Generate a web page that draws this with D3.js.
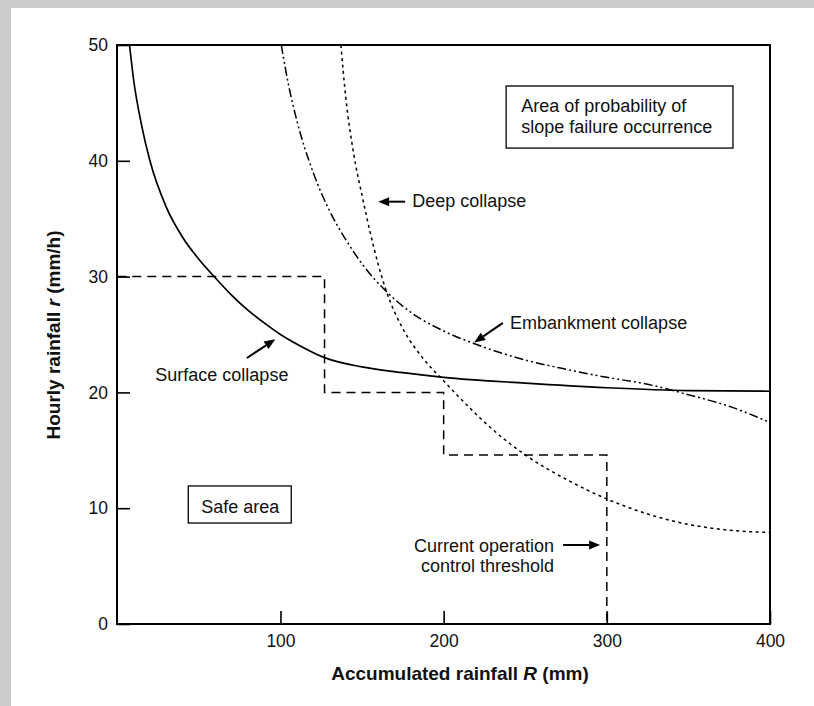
<!DOCTYPE html>
<html><head><meta charset="utf-8">
<script src="https://cdn.jsdelivr.net/npm/d3@7"></script>
<style>body{margin:0;background:#cccccc;} svg{display:block}</style>
</head><body>
<svg id="c" width="814" height="706"></svg>
<script>
// ---- data ----
const xTicks = [100, 200, 300, 400];
const yTicks = [0, 10, 20, 30, 40, 50];

const surfaceR = [7.5, 10, 15, 20, 30, 40, 50, 60, 70, 80, 90, 100, 115, 127, 150, 175, 200, 250, 300, 350, 400];
const surfaceV = [50, 47, 43, 40, 36, 33.4, 31.5, 29.9, 28.4, 27.1, 26, 25, 23.8, 23.0, 22.2, 21.7, 21.3, 20.8, 20.4, 20.15, 20.1];

const deepR = [137, 140, 145, 150, 155, 160, 165, 175, 187, 200, 215, 230, 250, 275, 300, 325, 350, 375, 400];
const deepV = [50, 45.5, 40.5, 37, 33.8, 31, 28.7, 25.5, 23, 21, 18.8, 16.8, 14.6, 12.5, 10.8, 9.5, 8.6, 8.1, 7.9];

const embankR = [100.5, 105, 110, 120, 130, 140, 150, 165, 180, 200, 219, 250, 275, 300, 325, 350, 375, 400];
const embankV = [50, 46.5, 43.5, 39, 35.7, 33.2, 31.1, 28.7, 26.9, 25.3, 24.2, 22.8, 22.0, 21.3, 20.7, 19.8, 18.8, 17.4];

const thresholdR = [0, 127, 127, 200, 200, 300, 300];
const thresholdV = [30, 30, 20, 20, 14.6, 14.6, 0];

// ---- layout ----
const svg = d3.select("#c");
svg.append("rect").attr("x", 11).attr("y", 8).attr("width", 814).attr("height", 706).attr("fill", "#fff");

const L = 117, R = 770, T = 45, B = 624;
const x = d3.scaleLinear().domain([0, 400]).range([L + 0.3, R]);
const y = d3.scaleLinear().domain([0, 50]).range([B, T]);
const font = "'Liberation Sans', Arial, Helvetica, sans-serif";

// axes
const xa = svg.append("g").attr("transform", `translate(0,${B})`)
  .call(d3.axisBottom(x).tickValues(xTicks).tickSizeInner(-13).tickSizeOuter(0).tickPadding(10.5).tickFormat(d3.format("d")));
const ya = svg.append("g").attr("transform", `translate(${L},0)`)
  .call(d3.axisLeft(y).tickValues(yTicks).tickSizeInner(-13).tickSizeOuter(0).tickPadding(9).tickFormat(d3.format("d")));
[xa, ya].forEach(g => {
  g.select(".domain").remove();
  g.selectAll(".tick line").attr("stroke", "#000").attr("stroke-width", 1.6);
  g.selectAll(".tick text").attr("fill", "#111").style("font-family", font).style("font-size", "17.5px");
});

// frame
svg.append("rect").attr("x", L).attr("y", T).attr("width", R - L).attr("height", B - T)
  .attr("fill", "none").attr("stroke", "#000").attr("stroke-width", 2);

// curves
const line = d3.line().x(d => x(d[0])).y(d => y(d[1])).curve(d3.curveMonotoneX);
const zipd = (a, b) => a.map((v, i) => [v, b[i]]);
const plot = svg.append("g");
plot.append("path").datum(zipd(surfaceR, surfaceV)).attr("d", line)
  .attr("fill", "none").attr("stroke", "#000").attr("stroke-width", 1.7);
plot.append("path").datum(zipd(deepR, deepV)).attr("d", line)
  .attr("fill", "none").attr("stroke", "#000").attr("stroke-width", 1.5).attr("stroke-dasharray", "3,3.5");
plot.append("path").datum(zipd(embankR, embankV)).attr("d", line)
  .attr("fill", "none").attr("stroke", "#000").attr("stroke-width", 1.5).attr("stroke-dasharray", "9,3,2,3,2,3");
const stepLine = d3.line().x(d => x(d[0])).y(d => y(d[1]));
plot.append("path").datum(zipd(thresholdR, thresholdV)).attr("d", stepLine)
  .attr("fill", "none").attr("stroke", "#000").attr("stroke-width", 1.5).attr("stroke-dasharray", "9,6");

// axis titles
const xt = svg.append("text").attr("x", 460).attr("y", 680).attr("text-anchor", "middle")
  .style("font-family", font).style("font-size", "19px").style("font-weight", "bold").attr("fill", "#111");
xt.append("tspan").text("Accumulated rainfall  ");
xt.append("tspan").style("font-style", "italic").text("R");
xt.append("tspan").text(" (mm)");
const yt = svg.append("text").attr("transform", "translate(60,335) rotate(-90)").attr("text-anchor", "middle")
  .style("font-family", font).style("font-size", "19px").style("font-weight", "bold").attr("fill", "#111");
yt.append("tspan").text("Hourly rainfall  ");
yt.append("tspan").style("font-style", "italic").text("r");
yt.append("tspan").text(" (mm/h)");

// annotations
const boxes = svg.append("g");
const ann = svg.append("g").style("font-family", font).style("font-size", "18px").attr("fill", "#111");
function txt(R0, r0, s, anchor) {
  ann.append("text").attr("x", x(R0)).attr("y", y(r0)).attr("text-anchor", anchor || "start").text(s);
}
function box(R1, r1, R2, r2) {
  boxes.append("rect").attr("x", x(R1)).attr("y", y(r1)).attr("width", x(R2) - x(R1)).attr("height", y(r2) - y(r1))
    .attr("fill", "#fff").attr("stroke", "#000").attr("stroke-width", 1.3);
}
function arrow(R1, r1, R2, r2) {
  const x1 = x(R1), y1 = y(r1), x2 = x(R2), y2 = y(r2);
  const a = Math.atan2(y2 - y1, x2 - x1), hl = 11, hw = 4.5;
  const bx = x2 - hl * Math.cos(a), by = y2 - hl * Math.sin(a);
  svg.append("line").attr("x1", x1).attr("y1", y1).attr("x2", bx).attr("y2", by)
    .attr("stroke", "#000").attr("stroke-width", 2);
  const px = -Math.sin(a) * hw, py = Math.cos(a) * hw;
  svg.append("path").attr("d", `M${x2},${y2}L${bx + px},${by + py}L${bx - px},${by - py}Z`).attr("fill", "#000");
}
box(238.3, 46.46, 377.3, 41.1);
txt(247.5, 44.2, "Area of probability of");
txt(247.5, 42.4, "slope failure occurrence");
box(43.5, 11.92, 106.6, 8.72);
txt(51.5, 9.59, "Safe area");
txt(180.7, 36.0, "Deep collapse");
arrow(176.4, 36.47, 159.9, 36.47);
txt(240.7, 25.47, "Embankment collapse");
arrow(236.3, 26.0, 218.7, 24.3);
txt(23.3, 21.0, "Surface collapse");
arrow(79.4, 22.97, 96.8, 24.59);
txt(267.7, 6.24, "Current operation", "end");
txt(267.7, 4.52, "control threshold", "end");
arrow(273.2, 6.82, 295.9, 6.82);
</script>
</body></html>
